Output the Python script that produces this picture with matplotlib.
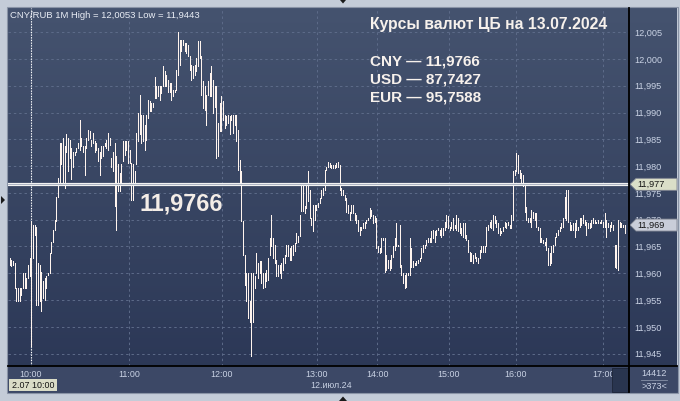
import numpy as np
import matplotlib
matplotlib.use("Agg")
import matplotlib.pyplot as plt
import matplotlib.colors as mcolors
from matplotlib.patches import Rectangle, Polygon

plt.rcParams['font.family'] = ['Liberation Sans', 'DejaVu Sans']

# --- CNY/RUB 1-minute bars, 12.07.2024 (high / low) ---
high = [
    11.9628, 11.9625, 11.9622, 11.9619, 11.9572, 11.9572, 11.9572, 11.9572, 11.9600, 11.9600,
    11.9591, 11.9616, 11.9628, 11.9697, 11.9691, 11.9691, 11.9687, 11.9619, 11.9616, 11.9603,
    11.9585, 11.9591, 11.9594, 11.9600, 11.9638, 11.9659, 11.9681, 11.9700, 11.9743, 11.9778,
    11.9843, 11.9843, 11.9852, 11.9837, 11.9859, 11.9852, 11.9849, 11.9834, 11.9827, 11.9827,
    11.9834, 11.9843, 11.9886, 11.9852, 11.9837, 11.9837, 11.9852, 11.9868, 11.9865, 11.9849,
    11.9862, 11.9846, 11.9843, 11.9834, 11.9827, 11.9837, 11.9837, 11.9843, 11.9849, 11.9862,
    11.9852, 11.9815, 11.9827, 11.9843, 11.9818, 11.9803, 11.9787, 11.9803, 11.9846, 11.9846,
    11.9846, 11.9846, 11.9830, 11.9806, 11.9803, 11.9790, 11.9862, 11.9899, 11.9933, 11.9896,
    11.9896, 11.9877, 11.9896, 11.9924, 11.9921, 11.9918, 11.9918, 11.9967, 11.9949, 11.9949,
    11.9949, 11.9949,
    11.9986, 11.9977, 11.9970, 11.9961, 11.9955, 11.9955, 11.9942, 11.9942, 11.9980, 12.0051,
    12.0036, 12.0036, 12.0036, 12.0029, 12.0029, 12.0026, 12.0005, 11.9989, 11.9986, 11.9989,
    12.0001, 12.0033, 12.0033, 12.0005, 11.9958, 11.9949, 11.9933, 11.9958, 11.9974, 11.9986,
    11.9961, 11.9949, 11.9949, 11.9880, 11.9918, 11.9930, 11.9921, 11.9896, 11.9893, 11.9896,
    11.9893, 11.9896, 11.9896, 11.9896, 11.9896, 11.9868, 11.9812, 11.9790, 11.9697, 11.9635,
    11.9600, 11.9600, 11.9548, 11.9600, 11.9600, 11.9594, 11.9638, 11.9619, 11.9622, 11.9622,
    11.9600, 11.9600, 11.9607, 11.9628, 11.9666, 11.9709, 11.9666, 11.9653, 11.9625, 11.9616,
    11.9616, 11.9619, 11.9628, 11.9635, 11.9653, 11.9653, 11.9647, 11.9650, 11.9653, 11.9656,
    11.9675, 11.9669, 11.9709, 11.9768, 11.9768, 11.9725, 11.9765, 11.9790, 11.9756, 11.9703,
    11.9728,
    11.9728, 11.9728, 11.9731, 11.9740, 11.9756, 11.9759, 11.9793, 11.9799, 11.9808, 11.9805,
    11.9802, 11.9802, 11.9802, 11.9805, 11.9808, 11.9802, 11.9759, 11.9756, 11.9746, 11.9740,
    11.9728, 11.9715, 11.9728, 11.9728, 11.9712, 11.9709, 11.9700, 11.9687, 11.9687, 11.9693,
    11.9696, 11.9700, 11.9703, 11.9721, 11.9718, 11.9709, 11.9706, 11.9703, 11.9650, 11.9647,
    11.9665, 11.9665, 11.9665, 11.9634, 11.9625, 11.9625, 11.9634, 11.9650, 11.9665, 11.9693,
    11.9653, 11.9690, 11.9616, 11.9600, 11.9597, 11.9600, 11.9600, 11.9665, 11.9647, 11.9622,
    11.9619, 11.9622, 11.9625, 11.9628, 11.9647, 11.9653, 11.9653, 11.9662, 11.9665, 11.9665,
    11.9678, 11.9681, 11.9678, 11.9681, 11.9684, 11.9681, 11.9684, 11.9684, 11.9696, 11.9709,
    11.9706, 11.9687, 11.9696, 11.9703, 11.9690, 11.9709, 11.9703, 11.9693, 11.9684, 11.9693,
    11.9693, 11.9672, 11.9662, 11.9640,
    11.9637, 11.9634, 11.9637, 11.9631, 11.9628, 11.9644, 11.9650, 11.9650, 11.9650, 11.9687,
    11.9690, 11.9696, 11.9700, 11.9709, 11.9706, 11.9700, 11.9693, 11.9684, 11.9678, 11.9687,
    11.9696, 11.9693, 11.9696, 11.9690, 11.9709, 11.9790, 11.9793, 11.9824, 11.9821, 11.9793,
    11.9787, 11.9783, 11.9765, 11.9724, 11.9703, 11.9703, 11.9718, 11.9715, 11.9712, 11.9712,
    11.9687, 11.9684, 11.9665, 11.9662, 11.9659, 11.9665, 11.9647, 11.9637, 11.9650, 11.9653,
    11.9668, 11.9675, 11.9681, 11.9687, 11.9693, 11.9703, 11.9743, 11.9756, 11.9756, 11.9696,
    11.9690, 11.9693, 11.9693, 11.9700, 11.9687, 11.9703, 11.9703, 11.9709, 11.9700, 11.9696,
    11.9693, 11.9693, 11.9700, 11.9703, 11.9700, 11.9696, 11.9700, 11.9696, 11.9700, 11.9696,
    11.9712, 11.9700, 11.9693, 11.9690, 11.9696, 11.9690, 11.9653, 11.9653, 11.9700, 11.9696,
    11.9693, 11.9690, 11.9690,
]
low = [
    11.9616, 11.9613, 11.9616, 11.9572, 11.9548, 11.9549, 11.9548, 11.9560, 11.9572, 11.9572,
    11.9572, 11.9591, 11.9594, 11.9464, 11.9628, 11.9672, 11.9541, 11.9541, 11.9548, 11.9529,
    11.9554, 11.9551, 11.9572, 11.9597, 11.9600, 11.9638, 11.9659, 11.9681, 11.9697, 11.9743,
    11.9765, 11.9803, 11.9765, 11.9759, 11.9827, 11.9790, 11.9815, 11.9775, 11.9799, 11.9821,
    11.9827, 11.9834, 11.9830, 11.9837, 11.9827, 11.9784, 11.9834, 11.9849, 11.9852, 11.9837,
    11.9843, 11.9827, 11.9830, 11.9809, 11.9784, 11.9815, 11.9818, 11.9837, 11.9834, 11.9830,
    11.9840, 11.9799, 11.9790, 11.9725, 11.9681, 11.9753, 11.9753, 11.9771, 11.9809, 11.9821,
    11.9830, 11.9806, 11.9806, 11.9737, 11.9737, 11.9771, 11.9803, 11.9846, 11.9859, 11.9843,
    11.9846, 11.9830, 11.9849, 11.9890, 11.9902, 11.9902, 11.9911, 11.9927, 11.9927, 11.9930,
    11.9924, 11.9936,
    11.9949, 11.9949, 11.9949, 11.9939, 11.9939, 11.9924, 11.9930, 11.9939, 11.9942, 11.9970,
    11.9989, 12.0014, 12.0026, 12.0014, 12.0011, 12.0005, 11.9980, 11.9961, 11.9964, 11.9970,
    11.9977, 11.9986, 12.0001, 11.9933, 11.9908, 11.9905, 11.9877, 11.9933, 11.9930, 11.9930,
    11.9899, 11.9911, 11.9815, 11.9818, 11.9865, 11.9865, 11.9886, 11.9871, 11.9877, 11.9880,
    11.9859, 11.9886, 11.9862, 11.9877, 11.9846, 11.9793, 11.9771, 11.9697, 11.9635, 11.9579,
    11.9548, 11.9516, 11.9510, 11.9445, 11.9510, 11.9572, 11.9600, 11.9591, 11.9600, 11.9582,
    11.9572, 11.9575, 11.9585, 11.9588, 11.9635, 11.9650, 11.9628, 11.9619, 11.9594, 11.9594,
    11.9600, 11.9591, 11.9607, 11.9619, 11.9632, 11.9632, 11.9625, 11.9625, 11.9635, 11.9641,
    11.9656, 11.9659, 11.9669, 11.9716, 11.9716, 11.9712, 11.9722, 11.9734, 11.9703, 11.9691,
    11.9678,
    11.9700, 11.9718, 11.9724, 11.9731, 11.9740, 11.9746, 11.9756, 11.9793, 11.9799, 11.9799,
    11.9796, 11.9796, 11.9796, 11.9799, 11.9799, 11.9756, 11.9746, 11.9746, 11.9737, 11.9715,
    11.9712, 11.9700, 11.9712, 11.9712, 11.9700, 11.9693, 11.9678, 11.9672, 11.9681, 11.9684,
    11.9684, 11.9693, 11.9700, 11.9703, 11.9706, 11.9693, 11.9696, 11.9647, 11.9640, 11.9637,
    11.9640, 11.9662, 11.9603, 11.9606, 11.9609, 11.9606, 11.9609, 11.9631, 11.9644, 11.9650,
    11.9650, 11.9612, 11.9597, 11.9581, 11.9572, 11.9575, 11.9597, 11.9597, 11.9612, 11.9612,
    11.9616, 11.9616, 11.9619, 11.9622, 11.9628, 11.9640, 11.9647, 11.9653, 11.9659, 11.9659,
    11.9659, 11.9665, 11.9659, 11.9672, 11.9681, 11.9672, 11.9668, 11.9672, 11.9681, 11.9687,
    11.9684, 11.9681, 11.9684, 11.9681, 11.9684, 11.9681, 11.9678, 11.9675, 11.9672, 11.9668,
    11.9665, 11.9662, 11.9640, 11.9622,
    11.9622, 11.9619, 11.9628, 11.9622, 11.9619, 11.9628, 11.9640, 11.9640, 11.9640, 11.9650,
    11.9681, 11.9687, 11.9684, 11.9681, 11.9693, 11.9687, 11.9675, 11.9672, 11.9675, 11.9678,
    11.9687, 11.9684, 11.9690, 11.9684, 11.9684, 11.9700, 11.9783, 11.9790, 11.9787, 11.9777,
    11.9765, 11.9762, 11.9715, 11.9700, 11.9696, 11.9696, 11.9687, 11.9703, 11.9700, 11.9687,
    11.9681, 11.9659, 11.9659, 11.9656, 11.9653, 11.9644, 11.9616, 11.9616, 11.9619, 11.9640,
    11.9653, 11.9668, 11.9672, 11.9678, 11.9684, 11.9687, 11.9703, 11.9700, 11.9696, 11.9681,
    11.9681, 11.9681, 11.9668, 11.9681, 11.9681, 11.9687, 11.9690, 11.9693, 11.9690, 11.9672,
    11.9684, 11.9684, 11.9687, 11.9693, 11.9693, 11.9693, 11.9693, 11.9693, 11.9693, 11.9687,
    11.9687, 11.9668, 11.9687, 11.9678, 11.9687, 11.9681, 11.9612, 11.9609, 11.9606, 11.9687,
    11.9687, 11.9687, 11.9675,
]

time_pos = [12.8, 71.8, 127.4, 184.2, 220.7, 263.6, 303.5, 356.1]   # bar index of each hour
time_lbl = ["10:00", "11:00", "12:00", "13:00", "14:00", "15:00", "16:00", "17:00"]
price_ticks = [11.945, 11.950, 11.955, 11.960, 11.965, 11.970, 11.975,
               11.980, 11.985, 11.990, 11.995, 12.000, 12.005]
cb_rate = 11.9766
last_price = 11.969
header = "CNY/RUB 1M High = 12,0053 Low = 11,9443"
title = "Курсы валют ЦБ на 13.07.2024"
rates = [("CNY", "11,9766"), ("USD", "87,7427"), ("EUR", "95,7588")]
date_lbl = "12.июл.24"
cursor_lbl = "2.07 10:00"
YMIN, YMAX = 11.9427, 12.0095

W, H = 680, 401
fig = plt.figure(figsize=(W / 100, H / 100), dpi=100, facecolor="#c4ccd8")

# background layer in pixel coordinates (origin top-left)
bg = fig.add_axes([0, 0, 1, 1], zorder=0)
bg.set_xlim(0, W); bg.set_ylim(H, 0); bg.axis("off")
top, bot = np.array(mcolors.to_rgb("#45536f")), np.array(mcolors.to_rgb("#2a3655"))
g = np.linspace(0, 1, 256)[:, None, None]
bg.imshow(top + (bot - top) * g, extent=[8, 677, 392, 8], aspect="auto", zorder=0)
bg.add_patch(Rectangle((8, 366), 669, 26, color="#3c4866", zorder=1))
bg.add_patch(Rectangle((7, 7), 671, 386, fill=False, ec="#8a94a6", lw=0.8, zorder=2))

# price axes
ax = fig.add_axes([8 / W, 1 - 366 / H, 621 / W, 358 / H], zorder=1)
ax.set_facecolor("none")
for s in ax.spines.values():
    s.set_visible(False)
x = np.arange(len(high))
ax.set_xlim(-1.0, 371.6)
ax.set_ylim(YMIN, YMAX)
ax.set_xticks(time_pos, time_lbl)
ax.set_yticks(price_ticks, [f"{v:.3f}".replace(".", ",") for v in price_ticks])
ax.yaxis.tick_right()
ax.tick_params(axis="y", length=0, pad=4, labelsize=6.6, labelcolor="#c9d2e4")
ax.tick_params(axis="x", length=0, pad=3.2, labelsize=6.4, labelcolor="#c9d2e4")
ax.grid(True, color="#5d6b89", lw=0.7, ls=(0, (2.5, 3)))
ax.set_axisbelow(True)

ax.axvline(time_pos[0], color="white", lw=0.8, ls=(0, (1.2, 1.2)), zorder=2)
ax.vlines(x, low, high, colors="#fff4ee", lw=0.45, antialiased=False, zorder=3)
ax.axhline(cb_rate, color="#f2f2f2", lw=2.3, zorder=4)
ax.axhline(cb_rate, color="#a2aabb", lw=0.6, zorder=5)

ax.text(0.279, (cb_rate - 0.0036 - YMIN) / (YMAX - YMIN), "11,9766",
        transform=ax.transAxes, ha="center", va="center", fontsize=16.8,
        fontweight="bold", color="#f4ede7", zorder=6)

# overlay: frame lines, tags, captions
ov = fig.add_axes([0, 0, 1, 1], zorder=2)
ov.set_xlim(0, W); ov.set_ylim(H, 0); ov.axis("off"); ov.patch.set_alpha(0)
ov.plot([629, 629], [8, 392], color="black", lw=1.3)
ov.plot([8, 677], [366, 366], color="black", lw=1.3)

def ypx(p):
    return 8 + (YMAX - p) / (YMAX - YMIN) * 358

for price, fc in [(cb_rate, "#dadec8"), (last_price, "#c9cdd9")]:
    yc = ypx(price)
    ov.add_patch(Polygon([(630, yc), (636, yc - 6), (677, yc - 6), (677, yc + 6), (636, yc + 6)],
                         closed=True, fc=fc, ec="#7d8290", lw=0.6))
    ov.text(637, yc + 0.3, f"{price:.3f}".replace(".", ","), fontsize=6.6,
            color="#151515", va="center", ha="left")

ov.text(10.5, 15, header, fontsize=6.8, color="#e9edf5", va="center")
ov.text(370, 24.5, title, fontsize=11.3, fontweight="bold", color="#f7f1ec", va="center")
for i, (cur, val) in enumerate(rates):
    ov.text(370, 61.5 + i * 18.2, f"{cur} — {val}", fontsize=11, fontweight="bold",
            color="#f7f1ec", va="center")

ov.text(331, 385.5, date_lbl, fontsize=6.4, color="#c9d2e4", ha="center", va="center")
ov.add_patch(Rectangle((9, 379), 48, 12, fc="#dadcc7", ec="none"))
ov.text(33, 385.2, cursor_lbl, fontsize=6.4, color="#121212", ha="center", va="center")
ov.add_patch(Rectangle((612, 367.5), 16, 24, fc="#29354f", ec="#1d2538", lw=0.6))
ov.text(654, 373.5, "14412", fontsize=6.6, color="#c9d2e4", ha="center", va="center")
ov.plot([641, 667], [380, 380], color="#8893a8", lw=0.6)
ov.text(654, 386.5, ">373<", fontsize=6.6, color="#c9d2e4", ha="center", va="center")

# small scroll markers on the frame
ov.add_patch(Polygon([(339, 401), (347, 401), (343, 396.5)], closed=True, fc="#1a1a1a"))
ov.add_patch(Polygon([(340, 0), (346, 0), (343, 3.5)], closed=True, fc="#1a1a1a"))
ov.add_patch(Polygon([(1, 196), (1, 204), (5, 200)], closed=True, fc="#1a1a1a"))

fig.savefig("out.png", dpi=100, facecolor=fig.get_facecolor())
